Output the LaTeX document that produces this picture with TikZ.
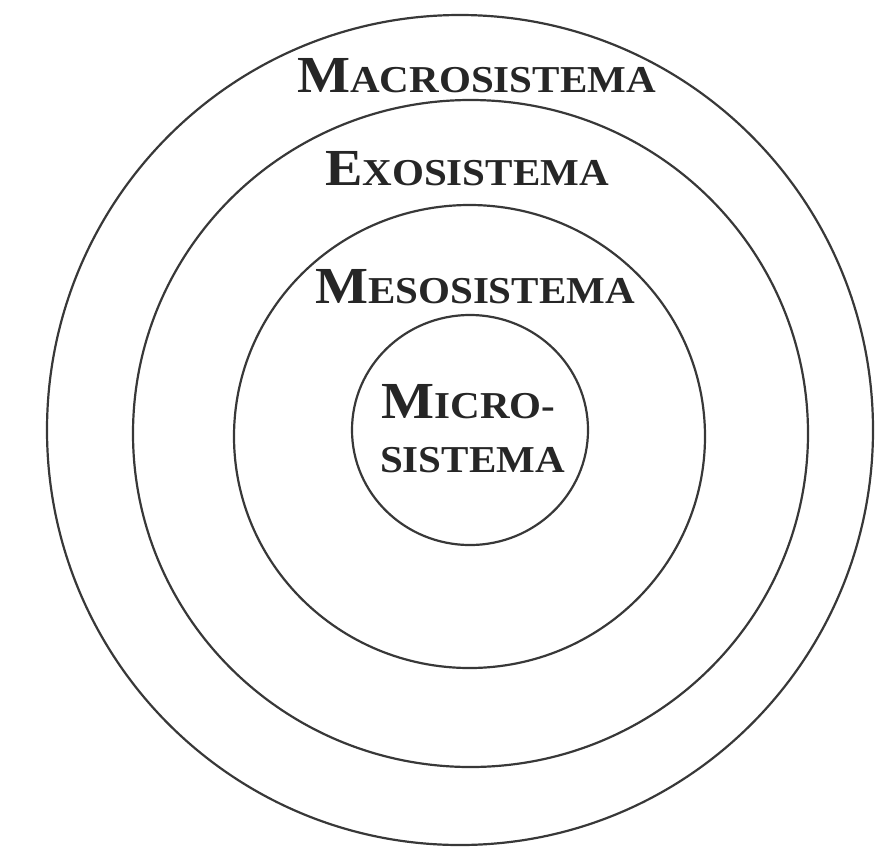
\documentclass[tikz,border=0pt]{standalone}
\usepackage{fontspec}
\usetikzlibrary{shapes.geometric}
\newfontfamily\labfont[FakeStretch=1.08]{Liberation Serif}
\newcommand\fsc[2]{{\fontsize{52}{54}\selectfont #1}{\fontsize{38}{54}\selectfont #2}}
\begin{document}
\begin{tikzpicture}[x=1pt,y=-1pt,
  ring/.style={ellipse,draw=black!78,line width=2.2pt,inner sep=0pt},
  lab/.style={anchor=base,inner sep=0pt,text=black!85,font=\labfont\bfseries}]
\useasboundingbox (0,0) rectangle (875,849);
\node[ring,minimum width=826pt,minimum height=830pt] (macro) at (460,430) {};
\node[ring,minimum width=675pt,minimum height=667pt] (exo) at (470.5,433.5) {};
\node[ring,minimum width=471pt,minimum height=463pt] (meso) at (469.5,436.5) {};
\node[ring,minimum width=236pt,minimum height=230pt] (micro) at (470,430) {};
\node[lab] (tmacro) at (476.5,92) {\fsc{M}{ACROSISTEMA}};
\node[lab] (texo) at (467,185) {\fsc{E}{XOSISTEMA}};
\node[lab] (tmeso) at (475,303) {\fsc{M}{ESOSISTEMA}};
\node[lab] (tmicroa) at (468.5,418) {\fsc{M}{ICRO-}};
\node[lab] (tmicrob) at (472.5,472) {\fsc{}{SISTEMA}};
\end{tikzpicture}
\end{document}
